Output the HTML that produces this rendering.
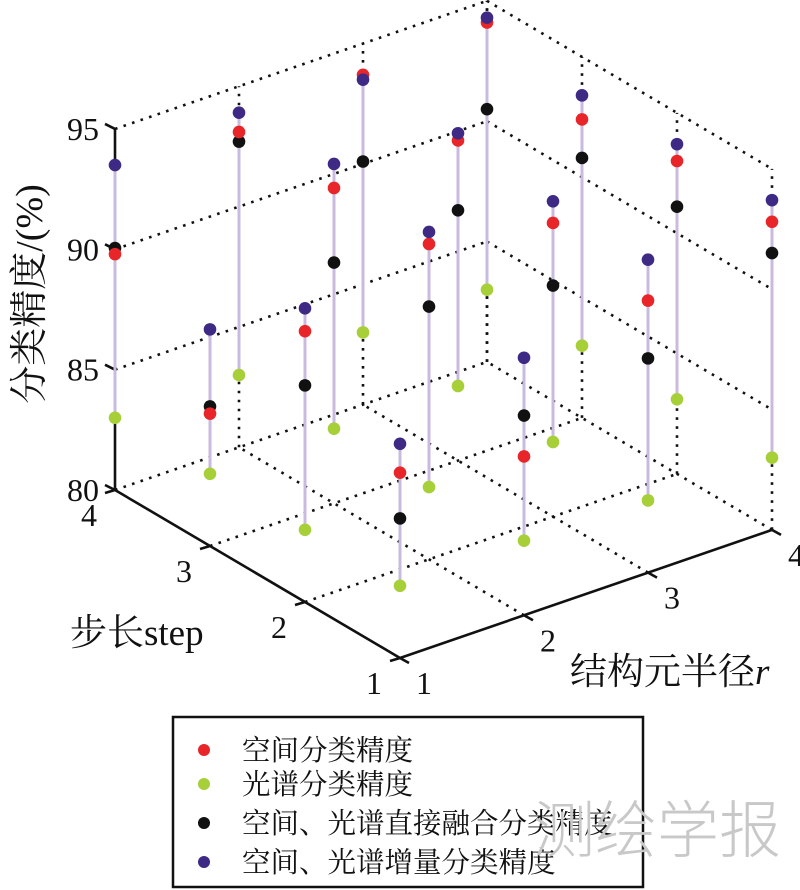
<!DOCTYPE html>
<html><head><meta charset="utf-8"><style>
html,body{margin:0;padding:0;background:#fff;}
svg{display:block;}
text{font-family:"Liberation Serif","Noto Serif CJK SC","Noto Sans CJK SC",serif;fill:#111;}
</style></head><body>
<svg id="chart" width="800" height="890" viewBox="0 0 800 890">
<g id="grid"></g>
<g id="axes"></g>
<g id="marks"></g>
<g id="labels"></g>
<g>
<rect x="173" y="717" width="470" height="170" fill="none" stroke="#111" stroke-width="2.5"/>
<g><circle cx="204" cy="750" r="6" fill="#e8262a"/><text x="242" y="760" font-size="28.5">空间分类精度</text></g>
<g><circle cx="204" cy="784" r="6" fill="#a6cf38"/><text x="242" y="794" font-size="28.5">光谱分类精度</text></g>
<g><circle cx="204" cy="823" r="6" fill="#111"/><text x="242" y="833" font-size="28.5">空间、光谱直接融合分类精度</text></g>
<g><circle cx="204" cy="862" r="6" fill="#3e2a85"/><text x="242" y="872" font-size="28.5">空间、光谱增量分类精度</text></g>
</g>
<text x="533" y="852" font-size="62" style="fill:#c8c8c8;font-family:'Noto Sans CJK SC',sans-serif;font-weight:300">测绘学报</text>
</svg>
<script>
// data: order r=1..4 outer, step=1..4 inner
const rVals = [1,2,3,4];
const stepVals = [1,2,3,4];
const spatial =     [87.7,91.25,85.5,89.8, 86.6,93.1,93.1,93.1, 91.3,92.2,93.3,93.7, 92.8,93.0,92.4,94.1];
const spectral =    [83.0,83.0,83.0,83.0, 83.1,83.0,83.1,83.0, 83.0,83.1,83.1,83.0, 83.0,83.1,83.0,83.0];
const directFusion =[85.8,89.0,85.8,90.05, 88.3,90.5,90.0,92.7, 88.9,89.6,90.4,90.1, 91.5,91.1,90.8,90.5];
const incremental = [88.9,92.2,89.0,93.5, 90.7,93.6,94.1,93.9, 93.0,93.1,93.6,93.5, 93.7,93.7,93.4,94.3];
const zTicks = [80,85,90,95];
const rTicks = [1,2,3,4];
const stepTicks = [1,2,3,4];

const NS='http://www.w3.org/2000/svg';
function P(r,s,z){return [400+124*(r-1)-95*(s-1), 658-42.7*(r-1)-56*(s-1)-24.07*(z-80)];}
function mk(parent,tag,attrs){const e=document.createElementNS(NS,tag);for(const k in attrs)e.setAttribute(k,attrs[k]);document.getElementById(parent).appendChild(e);return e;}
function line(parent,a,b,dotted,name){
  const e=mk(parent,'line',{x1:a[0],y1:a[1],x2:b[0],y2:b[1],stroke:'#111','stroke-width':2.6});
  if(dotted){e.setAttribute('stroke-dasharray','2.6 6.4');}
  
  
  return e;
}
zTicks.forEach(z=>{
  if(z>80){line('grid',P(1,4,z),P(4,4,z),true,'grid-back-z');line('grid',P(4,4,z),P(4,1,z),true,'grid-right-z');}
});
rTicks.forEach(r=>{ if(r>1){ line('grid',P(r,4,80),P(r,4,95),true,'grid-back-r'); line('grid',P(r,1,80),P(r,4,80),true,'grid-floor-r'); }});
stepTicks.forEach(s=>{ if(s>1){ line('grid',P(4,s,80),P(4,s,95),true,'grid-right-step'); line('grid',P(1,s,80),P(4,s,80),true,'grid-floor-step'); }});
line('grid',P(4,1,80),P(4,1,95),true,'grid-edge');
line('axes',P(1,4,80),P(1,4,95),false,'z-axis');
line('axes',P(1,1,80),P(1,4,80),false,'step-axis');
line('axes',P(1,1,80),P(4,1,80),false,'r-axis');
zTicks.forEach(z=>{const p=P(1,4,z);line('axes',p,[p[0]-10,p[1]-5],false,'z-tick');
  const t=mk('labels','text',{x:p[0]-16,y:p[1]+11,'font-size':32,'text-anchor':'end'});t.textContent=z;
  
  });
stepTicks.forEach(s=>{const p=P(1,s,80);line('axes',p,[p[0]-10,p[1]+3],false,'step-tick');
  const t=mk('labels','text',{x:p[0]-18,y:p[1]+36,'font-size':32,'text-anchor':'end'});t.textContent=s;
  
  });
rTicks.forEach(r=>{const p=P(r,1,80);line('axes',p,[p[0]+9,p[1]+5],false,'r-tick');
  const t=mk('labels','text',{x:p[0]+16,y:p[1]+36,'font-size':32,'text-anchor':'start'});t.textContent=r;
  
  });
const series=[[spectral,'#a6cf38'],[directFusion,'#111'],[spatial,'#e8262a'],[incremental,'#3e2a85']];
rVals.forEach((r,i)=>stepVals.forEach((s,j)=>{
  const k=i*4+j;const vals=[spatial[k],spectral[k],directFusion[k],incremental[k]];
  const a=P(r,s,Math.min(...vals)),b=P(r,s,Math.max(...vals));
  const st=mk('marks','line',{x1:a[0],y1:a[1],x2:b[0],y2:b[1],stroke:'#c9bbe0','stroke-width':3});
  
  
}));
series.forEach(([arr,col])=>{
  rVals.forEach((r,i)=>stepVals.forEach((s,j)=>{
    const p=P(r,s,arr[i*4+j]);
    const c=mk('marks','circle',{cx:p[0],cy:p[1],r:6.3,fill:col});
    
    
  }));
});
</script>
<svg width="800" height="890" style="position:absolute;left:0;top:0">
<text x="70" y="645" font-size="37" style="font-family:'Liberation Serif','Noto Serif CJK SC',serif">步长step</text>
<text x="570" y="684" font-size="37" style="font-family:'Liberation Serif','Noto Serif CJK SC',serif">结构元半径<tspan font-style="italic">r</tspan></text>
<text transform="translate(42,294) rotate(-90)" text-anchor="middle" font-size="38" style="font-family:'Liberation Serif','Noto Serif CJK SC',serif">分类精度/(%)</text>
</svg>
</body></html>
